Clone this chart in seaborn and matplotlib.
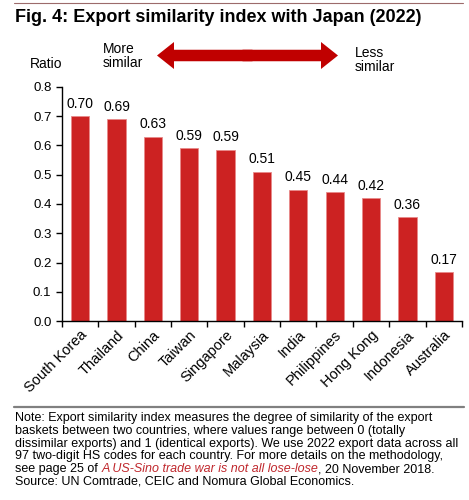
import matplotlib
matplotlib.use("Agg")
import matplotlib.pyplot as plt
import matplotlib.patches as mpatches
import pandas as pd
import seaborn as sns

# export similarity index with Japan, 2022
countries = ["South Korea", "Thailand", "China", "Taiwan", "Singapore", "Malaysia",
             "India", "Philippines", "Hong Kong", "Indonesia", "Australia"]
similarity = [0.70, 0.69, 0.63, 0.59, 0.585, 0.51, 0.448, 0.44, 0.42, 0.355, 0.167]
labels = ["0.70", "0.69", "0.63", "0.59", "0.59", "0.51", "0.45", "0.44", "0.42", "0.36", "0.17"]
y_ticks = [0.0, 0.1, 0.2, 0.3, 0.4, 0.5, 0.6, 0.7, 0.8]

df = pd.DataFrame({"country": countries, "value": similarity})

sns.set_style("ticks")
plt.rcParams["font.family"] = ["Liberation Sans", "DejaVu Sans"]
plt.rcParams["text.color"] = "black"
plt.rcParams["xtick.color"] = "black"
plt.rcParams["ytick.color"] = "black"

bar_red = "#CC2222"
fig = plt.figure(figsize=(4.69, 5), dpi=100)
ax = fig.add_axes([0.132, 0.358, 0.853, 0.468])

sns.barplot(data=df, x="country", y="value", color=bar_red, width=0.5,
            saturation=1, edgecolor="#E88A8A", linewidth=0.6, ax=ax)
ax.bar_label(ax.containers[0], labels=labels, padding=4, fontsize=10)

ax.set_ylim(0, 0.8)
ax.set_xlim(-0.5, len(countries) - 0.5)
ax.set_yticks(y_ticks)
ax.set_yticklabels([f"{t:.1f}" for t in y_ticks], fontsize=9.5)
# ticks sit between the categories, labels under the bars
ax.set_xticks([i - 0.5 for i in range(len(countries) + 1)])
ax.set_xticklabels([])
ax.set_xticks(range(len(countries)), minor=True)
ax.set_xticklabels(countries, minor=True, rotation=45, ha="right",
                   rotation_mode="anchor", fontsize=10.5)
ax.tick_params(axis="x", which="minor", length=0, pad=5)
ax.tick_params(axis="both", which="major", length=4, width=1, color="black")
ax.set_xlabel("")
ax.set_ylabel("")
sns.despine(ax=ax)
for s in ["left", "bottom"]:
    ax.spines[s].set_linewidth(1)
    ax.spines[s].set_color("black")

# header
fig.add_artist(plt.Line2D([14 / 469, 463 / 469], [1 - 3 / 500] * 2, color="#9C6B6B", lw=0.8))
fig.text(15 / 469, 1 - 18 / 500, "Fig. 4: Export similarity index with Japan (2022)",
         fontsize=13, fontweight="bold", va="center", ha="left")
fig.text(30 / 469, 1 - 64 / 500, "Ratio", fontsize=10, va="center", ha="left")
fig.text(103 / 469, 1 - 56 / 500, "More\nsimilar", fontsize=10, va="center", ha="left",
         linespacing=1.0)
fig.text(355 / 469, 1 - 60 / 500, "Less\nsimilar", fontsize=10, va="center", ha="left",
         linespacing=1.0)

# double headed arrow, drawn as two halves from the middle (overlapping a bit)
cx, cy, half = 2.475, 4.445, 0.905
for d in (-1, 1):
    fig.add_artist(mpatches.FancyArrow(cx - d * 0.05, cy, d * (half + 0.05), 0, width=0.115,
                                       head_width=0.27, head_length=0.17,
                                       length_includes_head=True, color="#C00000", lw=0,
                                       transform=fig.dpi_scale_trans))

# footer
fig.add_artist(plt.Line2D([14 / 469, 464 / 469], [1 - 407 / 500] * 2, color="#808080", lw=1.6))
note_lines = [
    "Note: Export similarity index measures the degree of similarity of the export",
    "baskets between two countries, where values range between 0 (totally",
    "dissimilar exports) and 1 (identical exports). We use 2022 export data across all",
    "97 two-digit HS codes for each country. For more details on the methodology,",
]
note_size = 9
y0, step = 418, 12.8
for i, line in enumerate(note_lines):
    fig.text(15 / 469, 1 - (y0 + i * step) / 500, line, fontsize=note_size, va="center", ha="left")
yl = 1 - (y0 + 4 * step) / 500
t1 = fig.text(15 / 469, yl, "see page 25 of ", fontsize=note_size, va="center", ha="left")
t2 = fig.text(0, 0, "A US-Sino trade war is not all lose-lose", fontsize=note_size,
              style="italic", color="#C0282D", va="center", ha="left")
t3 = fig.text(0, 0, ", 20 November 2018.", fontsize=note_size, va="center", ha="left")
fig.text(15 / 469, 1 - (y0 + 5 * step) / 500,
         "Source: UN Comtrade, CEIC and Nomura Global Economics.",
         fontsize=note_size, va="center", ha="left")

fig.canvas.draw()
r = fig.canvas.get_renderer()
bb = t1.get_window_extent(r)
t2.set_position((bb.x1 / fig.bbox.width, yl))
bb = t2.get_window_extent(r)
t3.set_position((bb.x1 / fig.bbox.width, yl))

fig.savefig("out.png", dpi=100)
